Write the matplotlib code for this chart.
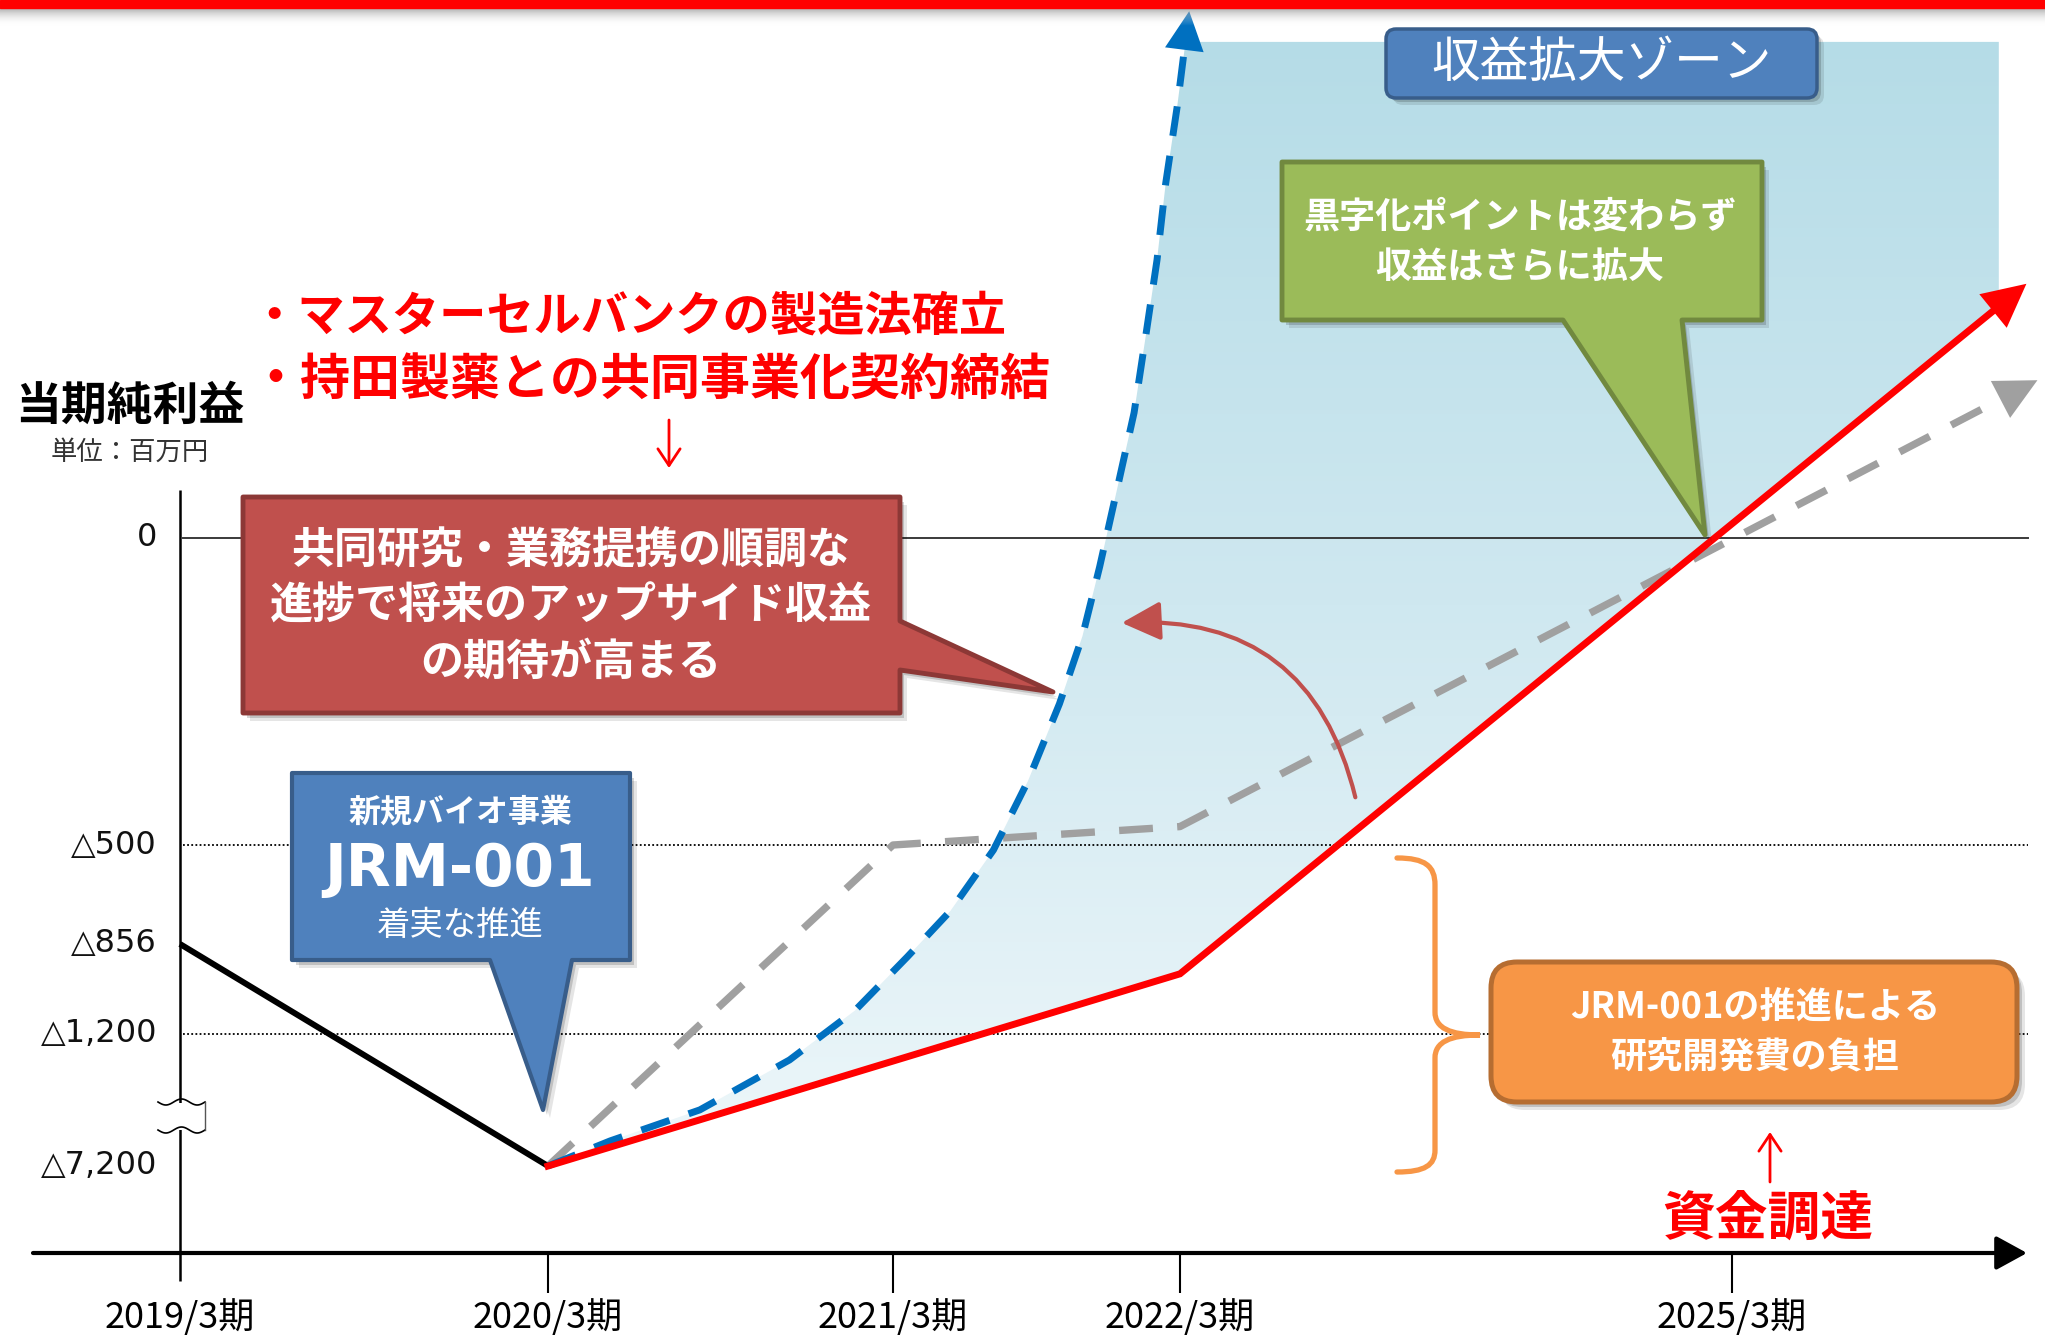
import numpy as np
import matplotlib
matplotlib.use('Agg')
import matplotlib.pyplot as plt
from matplotlib.patches import Polygon, Rectangle, FancyBboxPatch, FancyArrowPatch, PathPatch
from matplotlib.path import Path
from matplotlib.colors import LinearSegmentedColormap

plt.rcParams['font.family'] = ['Noto Sans CJK JP', 'DejaVu Sans']

W, H = 2045, 1335

# ---- data ----
x_ticks = [2019, 2020, 2021, 2022, 2025]
x_labels = ['2019/3期', '2020/3期', '2021/3期', '2022/3期', '2025/3期']
y_ticks = [-7200, -1200, -856, -500, 0]
y_labels = ['△7,200', '△1,200', '△856', '△500', '0']

black_x = [2019, 2020]
black_y = [-856, -7200]

red_x = [2020, 2022, 2026.6]
red_y = [-7200, -970, 414]

gray_x = [2020, 2021, 2022, 2026.66]
gray_y = [-7200, -500, -470, 257]

blue_x = [2020, 2020.18, 2020.44, 2020.70, 2020.89, 2021.05, 2021.20, 2021.35,
          2021.47, 2021.58, 2021.66, 2021.72, 2021.78, 2021.84, 2021.88,
          2021.92, 2021.95, 2021.99, 2022.05]
blue_y = [-7200, -6060, -4650, -2380, -1110, -905, -737, -518,
          -396, -270, -160, -47, 78, 204, 327,
          453, 577, 702, 858]

zone_top = 808
zone_right = 2026.45
zone_corner_y = 376

# ---- layout: where the (schematic, broken) axis puts each tick ----
x_pix = [180, 548, 893, 1180, 1732]
y_pix = [1166, 1034, 944, 845, 538]


def piecewise(src, dst):
    src = np.asarray(src, float)
    dst = np.asarray(dst, float)
    s0 = (dst[1] - dst[0]) / (src[1] - src[0])
    s1 = (dst[-1] - dst[-2]) / (src[-1] - src[-2])

    def f(v):
        v = np.asarray(v, float)
        out = np.interp(v, src, dst)
        out = np.where(v < src[0], dst[0] + (v - src[0]) * s0, out)
        out = np.where(v > src[-1], dst[-1] + (v - src[-1]) * s1, out)
        return out
    return f


fx = piecewise(x_ticks, x_pix)
ix = piecewise(x_pix, x_ticks)
fy = piecewise(y_ticks, -np.array(y_pix, float))
iy = piecewise(-np.array(y_pix, float), y_ticks)

fig = plt.figure(figsize=(W / 100, H / 100), dpi=100, facecolor='white')

# background layer (gradient zone), pixel coords
bg = fig.add_axes([0, 0, 1, 1], zorder=0)
bg.set_xlim(0, W)
bg.set_ylim(H, 0)
bg.axis('off')

# data layer
ax = fig.add_axes([0, 0, 1, 1], zorder=1)
ax.set_xscale('function', functions=(fx, ix))
ax.set_yscale('function', functions=(fy, iy))
ax.set_xlim(float(ix(0)), float(ix(W)))
ax.set_ylim(float(iy(-H)), float(iy(0)))
ax.axis('off')
ax.patch.set_visible(False)

# annotation layer, pixel coords
ov = fig.add_axes([0, 0, 1, 1], zorder=2)
ov.set_xlim(0, W)
ov.set_ylim(H, 0)
ov.axis('off')
ov.patch.set_visible(False)

# ---- profit expansion zone ----
zone_x = blue_x[:-1] + [2022.03, zone_right, zone_right] + red_x[-2::-1]
zone_y = blue_y[:-1] + [zone_top, zone_top, zone_corner_y] + red_y[-2::-1]
cmap = LinearSegmentedColormap.from_list('zone', ['#b5dce7', '#cfe8f0', '#eef7fa'])
img = bg.imshow(np.linspace(0, 1, 256)[:, None], cmap=cmap, aspect='auto',
                extent=(0, W, 1175, 35), interpolation='bilinear')
img.set_clip_path(Polygon(np.column_stack([zone_x, zone_y]), closed=True,
                          transform=ax.transData))

# ---- axes and grid ----
ax.axhline(0, xmin=183 / W, xmax=2028 / W, color='#3a3a3a', lw=1.4, zorder=1)
for v in (-500, -1200):
    ax.axhline(v, xmin=183 / W, xmax=2028 / W, color='black', lw=1.3,
               linestyle=(0, (1, 1.3)), zorder=1)
ax.vlines(x_ticks[0], 1 - 1281 / H, 1 - 490 / H, transform=ax.get_xaxis_transform(),
          color='black', lw=1.8)
ax.vlines(x_ticks[1:], 1 - 1293 / H, 1 - 1253 / H, transform=ax.get_xaxis_transform(),
          color='black', lw=1.5)
ov.annotate('', xy=(2027, 1253), xytext=(33, 1253),
            arrowprops=dict(arrowstyle='-|>,head_length=0.95,head_width=0.52',
                            mutation_scale=20, lw=3, color='black',
                            shrinkA=0, shrinkB=0))

for v, lab in zip(y_ticks, y_labels):
    ax.text(157 / W, v, lab, transform=ax.get_yaxis_transform(), ha='right',
            va='center', fontsize=23, family=['DejaVu Sans'], color='#111')
for xv, lab in zip(x_ticks, x_labels):
    ax.text(xv, 1 - 1318 / H, lab, transform=ax.get_xaxis_transform(), ha='center',
            va='center', fontsize=26, color='black')

# axis break mark
ov.add_patch(Rectangle((160, 1103), 44, 27, fc='white', ec='none', zorder=3))
wx = np.linspace(158, 205, 60)
for y0 in (1102, 1130):
    ov.plot(wx, y0 + 3 * np.sin((wx - 158) / 47 * 3 * np.pi), color='black', lw=1.2, zorder=4)
ov.plot([205, 205], [1102, 1130], color='#555', lw=1, zorder=4)


# ---- series ----
def shorten(xs, ys, back):
    px = fx(np.array(xs, float))
    py = fy(np.array(ys, float))
    dx, dy = px[-1] - px[-2], py[-1] - py[-2]
    L = np.hypot(dx, dy)
    ex = px[-1] - dx / L * back
    ey = py[-1] - dy / L * back
    return list(xs[:-1]) + [float(ix(ex))], list(ys[:-1]) + [float(iy(ey))]


def head(xs, ys, color, hl, hw):
    ax.annotate('', xy=(xs[-1], ys[-1]), xytext=(xs[-2], ys[-2]),
                arrowprops=dict(arrowstyle=f'-|>,head_length={hl},head_width={hw}',
                                mutation_scale=20, lw=0, fc=color, ec=color,
                                shrinkA=0, shrinkB=0), zorder=5)


ax.plot(black_x, black_y, color='black', lw=4.3, solid_capstyle='butt', zorder=4)

gx, gy = shorten(gray_x, gray_y, 28)
ax.plot(gx, gy, color='#a0a0a0', lw=5.3, dashes=(4.6, 3.3), zorder=3)
head(gray_x, gray_y, '#a0a0a0', 1.5, 0.75)

bx, by = shorten(blue_x, blue_y, 26)
ax.plot(bx, by, color='#0070c0', lw=5, dashes=(4.3, 2.9), solid_joinstyle='round',
        zorder=4)
head(blue_x, blue_y, '#0070c0', 1.4, 0.7)

rx, ry = shorten(red_x, red_y, 28)
ax.plot(rx, ry, color='#ff0000', lw=5, solid_joinstyle='miter', zorder=4)
head(red_x, red_y, '#ff0000', 1.55, 0.78)

# ---- top band ----
ov.add_patch(Rectangle((0, 0), W, 8, color='#ff0000', zorder=5))
shade = LinearSegmentedColormap.from_list('shade', [(0.55, 0.55, 0.55, 0.7), (1, 1, 1, 0)])
ov.imshow(np.linspace(0, 1, 64)[:, None], cmap=shade, aspect='auto',
          extent=(0, W, 26, 8), zorder=4)
ov.set_xlim(0, W)
ov.set_ylim(H, 0)


# ---- callouts ----
def callout(verts, fc, ec, lw=3.5):
    v = np.array(verts, float)
    for off, a in ((7, 0.10), (4, 0.16)):
        ov.add_patch(Polygon(v + [off, off + 1], closed=True, fc='black', ec='none',
                             alpha=a, zorder=6))
    ov.add_patch(Polygon(v, closed=True, fc=fc, ec=ec, lw=lw, joinstyle='round', zorder=7))


callout([(243, 497), (900, 497), (900, 621), (1053, 692), (900, 670), (900, 713), (243, 713)],
        '#c0504d', '#8c3836')
callout([(292, 773), (630, 773), (630, 960), (572, 960), (543, 1110), (490, 960), (292, 960)],
        '#4f81bd', '#385d8a', 3)
callout([(1282, 162), (1762, 162), (1762, 320), (1682, 320), (1705, 535), (1563, 320), (1282, 320)],
        '#9bbb59', '#71893f')

for off, a in ((7, 0.10), (4, 0.16)):
    ov.add_patch(FancyBboxPatch((1386 + off, 29 + off), 431, 69,
                                boxstyle='round,pad=0,rounding_size=10',
                                fc='black', ec='none', alpha=a, zorder=6))
ov.add_patch(FancyBboxPatch((1386, 29), 431, 69, boxstyle='round,pad=0,rounding_size=10',
                            fc='#4f81bd', ec='#385d8a', lw=2.5, zorder=7))
for off, a in ((8, 0.10), (5, 0.16)):
    ov.add_patch(FancyBboxPatch((1491 + off, 962 + off), 526, 140,
                                boxstyle='round,pad=0,rounding_size=26',
                                fc='black', ec='none', alpha=a, zorder=6))
ov.add_patch(FancyBboxPatch((1491, 962), 526, 140, boxstyle='round,pad=0,rounding_size=26',
                            fc='#f79646', ec='#b66d31', lw=3.6, zorder=7))

# brace
brace = Path([(1397, 858), (1425, 858), (1435, 866), (1435, 885),
              (1435, 1012),
              (1435, 1028), (1450, 1035), (1480, 1035),
              (1450, 1035), (1435, 1042), (1435, 1058),
              (1435, 1150),
              (1435, 1165), (1425, 1172), (1397, 1172)],
             [Path.MOVETO, Path.CURVE4, Path.CURVE4, Path.CURVE4,
              Path.LINETO,
              Path.CURVE4, Path.CURVE4, Path.CURVE4,
              Path.CURVE4, Path.CURVE4, Path.CURVE4,
              Path.LINETO,
              Path.CURVE4, Path.CURVE4, Path.CURVE4])
ov.add_patch(PathPatch(brace, fc='none', ec='#f79646', lw=3.8, capstyle='round', zorder=6))

# curved arrow
ov.add_patch(FancyArrowPatch((1356, 800), (1119, 623), connectionstyle='arc3,rad=0.42',
                             arrowstyle='-|>,head_length=1.2,head_width=0.6',
                             mutation_scale=20, lw=3, color='#c0504d', zorder=6))

# ---- texts ----
white_b = dict(color='white', fontweight='bold', ha='center', va='center', zorder=8)
for y, s in zip((550, 606, 662), ('共同研究・業務提携の順調な', '進捗で将来のアップサイド収益', 'の期待が高まる')):
    ov.text(571, y, s, fontsize=31, **white_b)
ov.text(460, 812, '新規バイオ事業', fontsize=23, **white_b)
ov.text(460, 870, 'JRM-001', fontsize=42, family=['DejaVu Sans'], **white_b)
ov.text(460, 925, '着実な推進', fontsize=24, color='white', ha='center', va='center', zorder=8)
ov.text(1520, 217, '黒字化ポイントは変わらず', fontsize=26, **white_b)
ov.text(1520, 267, '収益はさらに拡大', fontsize=26, **white_b)
ov.text(1601, 63, '収益拡大ゾーン', fontsize=35, color='white', ha='center', va='center', zorder=8)
ov.text(1755, 1008, 'JRM-001の推進による', fontsize=26, **white_b)
ov.text(1755, 1057, '研究開発費の負担', fontsize=26, **white_b)

ov.text(250, 317, '・マスターセルバンクの製造法確立', fontsize=34, color='#ff0000',
        fontweight='bold', ha='left', va='center', zorder=8)
ov.text(250, 381, '・持田製薬との共同事業化契約締結', fontsize=36, color='#ff0000',
        fontweight='bold', ha='left', va='center', zorder=8)
ov.annotate('', xy=(669, 468), xytext=(669, 420),
            arrowprops=dict(arrowstyle='->,head_length=0.6,head_width=0.4', mutation_scale=20,
                            lw=2, color='#ff0000', shrinkA=0, shrinkB=0))
ov.text(1768, 1220, '資金調達', fontsize=38, color='#ff0000', fontweight='bold',
        ha='center', va='center', zorder=8)
ov.annotate('', xy=(1770, 1132), xytext=(1770, 1182),
            arrowprops=dict(arrowstyle='->,head_length=0.6,head_width=0.4', mutation_scale=20,
                            lw=2, color='#ff0000', shrinkA=0, shrinkB=0))

ov.text(15, 407, '当期純利益', fontsize=33, fontweight='bold', color='black',
        ha='left', va='center', zorder=8)
ov.text(130, 452, '単位：百万円', fontsize=19, color='#333333', ha='center', va='center', zorder=8)

fig.savefig('out.png', dpi=100, facecolor='white')
